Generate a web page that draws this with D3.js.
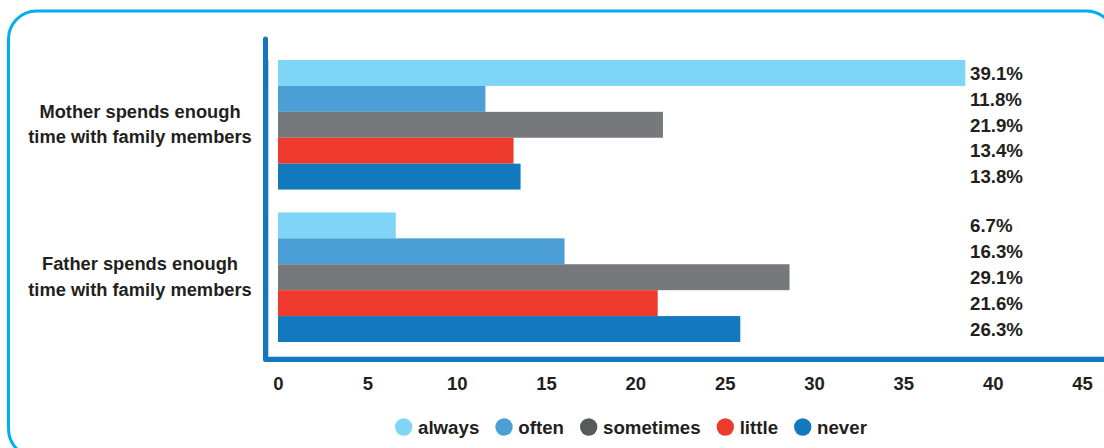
<!DOCTYPE html>
<html>
<head>
<meta charset="utf-8">
<script src="https://cdn.jsdelivr.net/npm/d3@7"></script>
<style>
  html, body { margin: 0; padding: 0; background: #ffffff; }
  svg { display: block; font-family: "Liberation Sans", Arial, Helvetica, sans-serif; }
</style>
</head>
<body>
<svg id="chart" width="1104" height="448"></svg>
<script>
// Survey answers, share of respondents (%)
const categories = [
  ["Mother spends enough", "time with family members"],
  ["Father spends enough", "time with family members"]
];
const seriesNames = ["always", "often", "sometimes", "little", "never"];
const motherValues = [39.1, 11.8, 21.9, 13.4, 13.8];
const fatherValues = [6.7, 16.3, 29.1, 21.6, 26.3];
const tickValues = [0, 5, 10, 15, 20, 25, 30, 35, 40, 45];

const seriesColors = ["#7fd5f6", "#4b9fd6", "#77787b", "#ee3a2c", "#1379bf"];
const legendColors = ["#7fd5f6", "#4b9fd6", "#58595b", "#ee3a2c", "#1379bf"];
const textColor = "#231f20";
const axisColor = "#1577bf";

const groups = categories.map((c, i) => ({
  key: i,
  label: c,
  values: [motherValues, fatherValues][i]
}));

const svg = d3.select("#chart");

// outer rounded frame
svg.append("rect")
  .attr("x", 8.5).attr("y", 11)
  .attr("width", 1106).attr("height", 446)
  .attr("rx", 28).attr("ry", 28)
  .attr("fill", "none")
  .attr("stroke", "#00aeef")
  .attr("stroke-width", 3);

// tick scale for the axis labels, and a slightly tighter scale for bar lengths
const xAxisScale = d3.scaleLinear().domain([0, 45]).range([278, 1082]);
const x = d3.scaleLinear().domain([0, 45]).range([278, 1069]);
const y0 = d3.scaleBand()
  .domain(groups.map(g => g.key))
  .range([60, 342])
  .paddingInner(0.15)
  .paddingOuter(0);
const y1 = d3.scaleBand()
  .domain(seriesNames)
  .range([0, y0.bandwidth()])
  .padding(0);
const color = d3.scaleOrdinal().domain(seriesNames).range(seriesColors);

// bars
const g = svg.selectAll("g.group")
  .data(groups)
  .join("g")
  .attr("class", "group")
  .attr("transform", d => `translate(0,${y0(d.key)})`);

g.selectAll("rect")
  .data(d => d.values.map((v, i) => ({ name: seriesNames[i], value: v })))
  .join("rect")
  .attr("x", x(0))
  .attr("y", d => y1(d.name))
  .attr("width", d => x(d.value) - x(0))
  .attr("height", y1.bandwidth())
  .attr("fill", d => color(d.name));

// value labels in a column on the right
const labelX = 970;
g.selectAll("text.value")
  .data(d => d.values.map((v, i) => ({ name: seriesNames[i], value: v })))
  .join("text")
  .attr("class", "value")
  .attr("x", labelX)
  .attr("y", d => y1(d.name) + y1.bandwidth() / 2)
  .attr("dy", "0.36em")
  .attr("fill", textColor)
  .attr("font-size", 18.7)
  .attr("font-weight", "bold")
  .text(d => d.value.toFixed(1) + "%");

// category labels
svg.selectAll("text.cat")
  .data(groups)
  .join("text")
  .attr("class", "cat")
  .attr("x", 140)
  .attr("y", d => y0(d.key) + y0.bandwidth() / 2 - 13.5)
  .attr("text-anchor", "middle")
  .attr("fill", textColor)
  .attr("font-size", 18.3)
  .attr("font-weight", "bold")
  .selectAll("tspan")
  .data(d => d.label)
  .join("tspan")
  .attr("x", 140)
  .attr("dy", (d, i) => i === 0 ? "0.36em" : "25.5")
  .text(d => d);

// L-shaped axis lines
svg.append("path")
  .attr("d", `M265.5,39 V359.5 H1110`)
  .attr("fill", "none")
  .attr("stroke", axisColor)
  .attr("stroke-width", 5)
  .attr("stroke-linecap", "round")
  .attr("stroke-linejoin", "round");
svg.append("path")
  .attr("d", `M268.5,60 V356.5 H1110`)
  .attr("fill", "none")
  .attr("stroke", "#b3d3ee")
  .attr("stroke-width", 1);

// x axis tick labels
const xAxis = d3.axisBottom(xAxisScale)
  .tickValues(tickValues)
  .tickSize(0)
  .tickPadding(15)
  .tickFormat(d3.format("d"));
const ax = svg.append("g")
  .attr("transform", "translate(0,362)")
  .call(xAxis);
ax.select(".domain").remove();
ax.selectAll("text")
  .attr("fill", textColor)
  .attr("font-size", 18.5)
  .attr("font-weight", "bold")
  .attr("font-family", "Liberation Sans, Arial, sans-serif");

// legend
const legend = svg.append("g").attr("transform", "translate(0,427)");
let lx = 395;
seriesNames.forEach((name, i) => {
  const item = legend.append("g");
  item.append("circle")
    .attr("cx", lx + 8.7)
    .attr("cy", 0)
    .attr("r", 8.7)
    .attr("fill", legendColors[i]);
  const t = item.append("text")
    .attr("x", lx + 23)
    .attr("y", 0)
    .attr("dy", "0.36em")
    .attr("fill", textColor)
    .attr("font-size", 18.7)
    .attr("font-weight", "bold")
    .text(name);
  lx += 23 + t.node().getComputedTextLength() + 16;
});
</script>
</body>
</html>
